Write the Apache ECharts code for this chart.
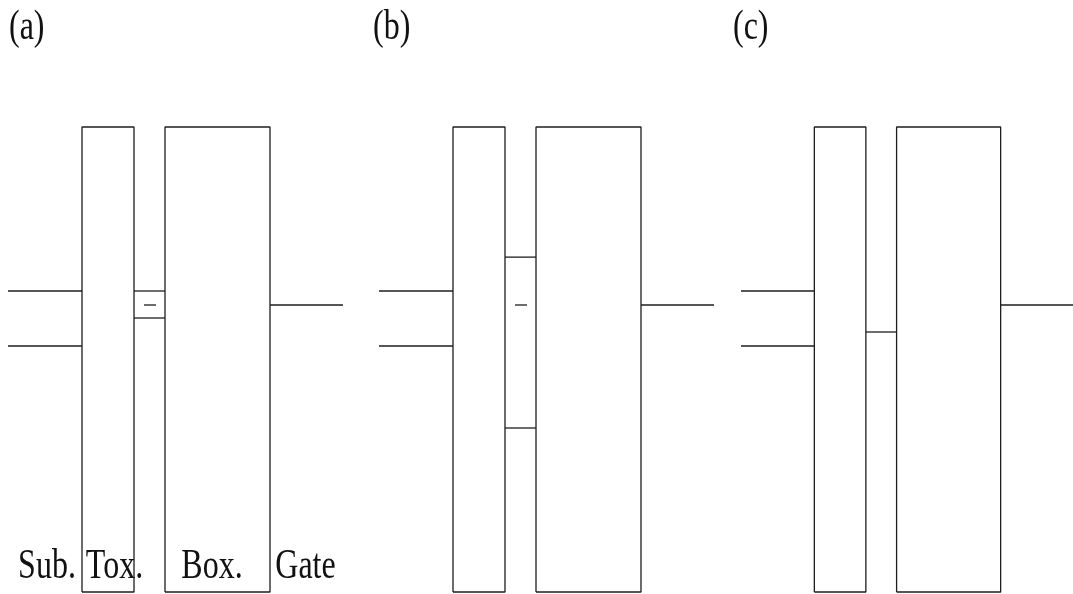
<!DOCTYPE html>
<html>
<head>
<meta charset="utf-8">
<script src="https://cdn.jsdelivr.net/npm/echarts@6/dist/echarts.min.js"></script>
<style>
  html, body { margin: 0; padding: 0; background: #fff; }
  #chart { width: 1073px; height: 594px; }
</style>
</head>
<body>
<div id="chart"></div>
<script>
// ---------------- data ----------------
const panelLabels = ['(a)', '(b)', '(c)'];
const layerNames = ['Sub.', 'Tox.', 'Box.', 'Gate'];
// layer boundaries along depth (arbitrary units): sub | tox | well | box | gate
const layerEdges = [0, 7.4, 12.6, 15.7, 26.2, 33.5];
// energies (eV) relative to substrate conduction band edge
const barrierTop = 3.34;
const barrierBottom = -6.13;
const subEc = 0;
const subEv = -1.12;
const gateLevel = -0.285;
// quantum-well (body) levels in each panel
const wellLevelsA = [0, -0.55];
const wellLevelsB = [0.69, -2.79];
const wellLevelsC = [-0.835];
const wellLevels = [wellLevelsA, wellLevelsB, wellLevelsC];
// small charge marker ("−") in the well
const markerX = [13.6, 14.8];
const markerLevels = [-0.285, -0.285, null];
// label anchor positions along depth for layer names (panel a)
const layerLabelX = [3.9, 10.65, 20.4, 29.75];
const layerLabelY = -6.05;

// ---------------- layout ----------------
const gridLefts = [8, 379, 741];
const gridWidths = [335, 335, 332];
const panelLabelX = [9, 373, 733];
const lineColor = '#1e1e1e';
const lw = 1.3;

const grids = [], xAxes = [], yAxes = [], series = [];
for (let p = 0; p < 3; p++) {
  grids.push({ left: gridLefts[p], top: 127, width: gridWidths[p], height: 465 });
  xAxes.push({ type: 'value', gridIndex: p, min: layerEdges[0], max: layerEdges[5], show: false });
  yAxes.push({ type: 'value', gridIndex: p, min: barrierBottom, max: barrierTop, show: false });

  const segs = [];
  segs.push([[layerEdges[0], subEc], [layerEdges[1], subEc]]);
  segs.push([[layerEdges[0], subEv], [layerEdges[1], subEv]]);
  segs.push([[layerEdges[1], barrierBottom], [layerEdges[1], barrierTop], [layerEdges[2], barrierTop],
             [layerEdges[2], barrierBottom], [layerEdges[1], barrierBottom]]);
  segs.push([[layerEdges[3], barrierBottom], [layerEdges[3], barrierTop], [layerEdges[4], barrierTop],
             [layerEdges[4], barrierBottom], [layerEdges[3], barrierBottom]]);
  segs.push([[layerEdges[4], gateLevel], [layerEdges[5], gateLevel]]);
  wellLevels[p].forEach(v => segs.push([[layerEdges[2], v], [layerEdges[3], v]]));
  if (markerLevels[p] !== null) segs.push([[markerX[0], markerLevels[p]], [markerX[1], markerLevels[p]]]);

  segs.forEach(d => series.push({
    type: 'line', xAxisIndex: p, yAxisIndex: p, data: d, symbol: 'none', clip: false,
    silent: true, animation: false,
    lineStyle: { color: lineColor, width: lw }
  }));
}

const chart = echarts.init(document.getElementById('chart'), null, { renderer: 'canvas' });
chart.setOption({
  backgroundColor: '#fff',
  animation: false,
  grid: grids, xAxis: xAxes, yAxis: yAxes, series: series
});

// text labels
const graphics = [];
const serif = '"Liberation Serif", "DejaVu Serif", serif';
panelLabels.forEach((t, i) => {
  graphics.push({
    type: 'text', x: panelLabelX[i], y: 49, scaleY: 1.35, silent: true,
    style: { text: t, fontFamily: serif, fontSize: 32, fill: '#111', textAlign: 'left', textVerticalAlign: 'bottom' }
  });
});
layerNames.forEach((t, i) => {
  const px = chart.convertToPixel({ gridIndex: 0 }, [layerLabelX[i], layerLabelY]);
  graphics.push({
    type: 'text', x: px[0], y: px[1], scaleY: 1.3, silent: true,
    style: { text: t, fontFamily: serif, fontSize: 32, fill: '#111', textAlign: 'center', textVerticalAlign: 'bottom' }
  });
});
chart.setOption({ graphic: graphics });
</script>
</body>
</html>
